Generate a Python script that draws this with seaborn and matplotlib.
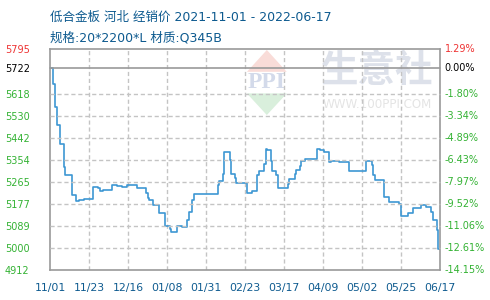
import matplotlib
matplotlib.use("Agg")
import matplotlib.pyplot as plt
import matplotlib.dates as mdates
import matplotlib.transforms as mtransforms
from matplotlib.lines import Line2D
from matplotlib.patches import Polygon
import seaborn as sns
import pandas as pd
import numpy as np

# ---------------- data ----------------
start_date = "2021-11-01"
end_date = "2022-06-17"
change_days = [0, 2, 3, 4, 6, 8, 9, 13, 15, 17, 20, 25, 28, 29, 31, 36, 39, 42, 45, 51,
               56, 57, 58, 60, 64, 67, 70, 71, 74, 77, 80, 81, 83, 84, 98, 99, 101, 102,
               105, 106, 108, 109, 115, 118, 121, 122, 125, 126, 127, 129, 130, 132, 133,
               139, 140, 143, 144, 146, 147, 149, 156, 158, 160, 163, 164, 169, 175, 185,
               188, 189, 190, 195, 198, 204, 205, 209, 212, 217, 220, 223, 224, 226, 227, 228]
prices = [5722, 5658, 5565, 5491, 5418, 5325, 5292, 5212, 5188, 5192, 5195, 5243, 5239, 5229,
          5234, 5252, 5248, 5244, 5254, 5242, 5222, 5202, 5194, 5172, 5141, 5089, 5076, 5065,
          5089, 5085, 5112, 5145, 5192, 5218, 5252, 5269, 5298, 5385, 5352, 5298, 5282, 5262,
          5221, 5228, 5294, 5308, 5336, 5398, 5392, 5348, 5308, 5292, 5242, 5258, 5278, 5298,
          5314, 5328, 5349, 5356, 5396, 5394, 5385, 5345, 5349, 5343, 5309, 5349, 5332, 5292,
          5274, 5205, 5183, 5175, 5128, 5139, 5159, 5172, 5165, 5145, 5112, 5072, 4998, 4998]
x_tick_labels = ["11/01", "11/23", "12/16", "01/08", "01/31", "02/23", "03/17",
                 "04/09", "05/02", "05/25", "06/17"]
y_tick_values = [4912, 5000, 5089, 5177, 5265, 5354, 5442, 5530, 5618, 5722, 5795]
y_tick_labels = ["4912", "5000", "5089", "5177", "5265", "5354", "5442", "5530", "5618", "5722", "5795"]
pct_tick_labels = ["-14.15%", "-12.61%", "-11.06%", "-9.52%", "-7.97%", "-6.43%", "-4.89%",
                   "-3.34%", "-1.80%", "0.00%", "1.29%"]
base_price = 5722
title1 = "低合金板 河北 经销价 2021-11-01 - 2022-06-17"
title2 = "规格:20*2200*L 材质:Q345B"

df = pd.DataFrame({
    "date": pd.Timestamp(start_date) + pd.to_timedelta(change_days, unit="D"),
    "price": prices,
})

# ---------------- style ----------------
sns.set_theme(style="white")
plt.rcParams["font.family"] = ["DejaVu Sans", "Noto Sans CJK SC"]

fig = plt.figure(figsize=(4.9, 3.0), dpi=100)
ax = fig.add_axes([50 / 490, 30 / 300, 390 / 490, 220.7 / 300])

GRID = "#c4c4c4"
SPINE = "#9a9a9a"
GREEN = "#33b233"
RED = "#ee3333"
BLUE_TXT = "#0d5a8f"

sns.lineplot(data=df, x="date", y="price", ax=ax, color="#3d97d3", lw=1.2,
             drawstyle="steps-post", zorder=3)

x0 = mdates.date2num(pd.Timestamp(start_date))
x1 = mdates.date2num(pd.Timestamp(end_date))
xticks = np.linspace(x0, x1, len(x_tick_labels))

ax.set_xticks(xticks)
ax.set_xticklabels(x_tick_labels)
ax.set_yticks(y_tick_values)
ax.set_yticklabels(y_tick_labels)
ax.set_xlim(x0, x1)
ax.set_ylim(y_tick_values[0], y_tick_values[-1])

# vertical grid lines
ax.vlines(xticks[1:-1], y_tick_values[0], y_tick_values[-1], colors=GRID, lw=1.0,
          linestyles=[(0, (3, 2))], zorder=2)

# horizontal grid lines (figure-level artists on the axes' y scale)
ytrans = mtransforms.blended_transform_factory(ax.transAxes, ax.transData)
for v in y_tick_values[1:-1]:
    if v == base_price:
        fig.add_artist(Line2D([0, 1], [v, v], transform=ytrans, color=SPINE, lw=1.2,
                              zorder=0.6))
    else:
        fig.add_artist(Line2D([0, 1], [v, v], transform=ytrans, color=GRID, lw=1.0,
                              ls=(0, (3, 2)), zorder=0.5))

# watermark
ax.text(0.838, 0.905, "生意社", transform=ax.transAxes, ha="center", va="center",
        fontsize=27, color="#dde1ea", family=["Noto Sans CJK SC"], fontweight="bold", zorder=1)
ax.text(0.838, 0.752, "WWW.100PPI.COM", transform=ax.transAxes, ha="center", va="center",
        fontsize=8.6, color="#e4e4e4", zorder=1)
ax.add_patch(Polygon([[0.505, 0.898], [0.607, 0.898], [0.556, 0.997]], closed=True,
                     transform=ax.transAxes, facecolor="#f9dcd8", edgecolor="none", zorder=1))
ax.add_patch(Polygon([[0.505, 0.800], [0.607, 0.800], [0.556, 0.702]], closed=True,
                     transform=ax.transAxes, facecolor="#d9efdc", edgecolor="none", zorder=1))
ax.text(0.556, 0.848, "PPI", transform=ax.transAxes, ha="center", va="center",
        fontsize=17, color="#d3daea", family=["Liberation Serif"], fontweight="bold", zorder=1)

ax.set_xlabel("")
ax.set_ylabel("")
ax.tick_params(axis="x", length=0, pad=9, labelsize=7.8, colors=BLUE_TXT)
ax.tick_params(axis="y", length=0, pad=32.5, labelsize=7.0)
for lbl, v in zip(ax.get_yticklabels(), y_tick_values):
    lbl.set_horizontalalignment("left")
    lbl.set_color(RED if v > base_price else ("black" if v == base_price else GREEN))
for lbl in ax.get_xticklabels():
    lbl.set_color(BLUE_TXT)

for s in ax.spines.values():
    s.set_visible(True)
    s.set_color(SPINE)
    s.set_linewidth(1.2)
    s.set_zorder(4)

# right-hand percentage labels (relative to base price)
for v, txt in zip(y_tick_values, pct_tick_labels):
    ax.text(1.012, v, txt, transform=ax.get_yaxis_transform(), ha="left", va="center",
            fontsize=7.0, clip_on=False,
            color=RED if v > base_price else ("black" if v == base_price else GREEN))

fig.text(50 / 490, 1 - 17 / 300, title1, ha="left", va="center", fontsize=9,
         color=BLUE_TXT, family=["DejaVu Sans", "Noto Sans CJK SC"])
fig.text(50 / 490, 1 - 38 / 300, title2, ha="left", va="center", fontsize=9,
         color=BLUE_TXT, family=["DejaVu Sans", "Noto Sans CJK SC"])

fig.savefig("out.png", dpi=100)
